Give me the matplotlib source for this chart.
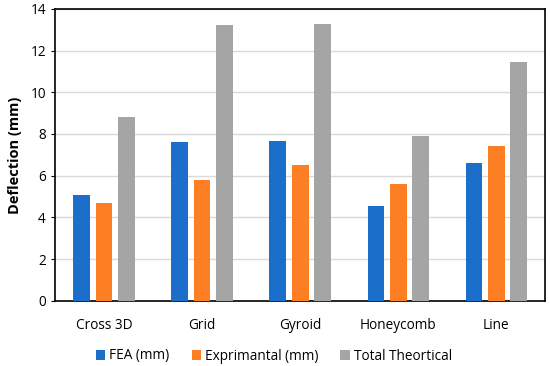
import matplotlib
matplotlib.use("Agg")
import matplotlib.pyplot as plt
import numpy as np

plt.rcParams["font.family"] = ["Open Sans", "DejaVu Sans"]

categories = ["Cross 3D", "Grid", "Gyroid", "Honeycomb", "Line"]
fea = [5.07, 7.62, 7.65, 4.55, 6.62]
experimental = [4.68, 5.79, 6.49, 5.61, 7.43]
theoretical = [8.79, 13.2, 13.26, 7.9, 11.46]

series = [
    ("FEA (mm)", fea, "#1b6fca"),
    ("Exprimantal (mm)", experimental, "#fd7f23"),
    ("Total Theortical", theoretical, "#a5a5a5"),
]

fig = plt.figure(figsize=(5.5, 3.66), dpi=100)
ax = fig.add_axes([0.1, 0.178, 0.891, 0.798])

x = np.arange(len(categories))
w = 0.173
step = 0.225
for i, (label, vals, color) in enumerate(series):
    ax.bar(x + (i - 1) * step, vals, width=w, color=color, label=label, zorder=3)

ax.set_xlim(-0.5, len(categories) - 0.5)
ax.set_ylim(0, 14)
ax.set_yticks(range(0, 15, 2))
ax.set_xticks(x)
ax.set_xticklabels(categories, fontsize=9.8)
ax.tick_params(axis="y", labelsize=9.8, length=3)
ax.tick_params(axis="x", length=0, pad=12)
ax.yaxis.grid(True, color="#d9d9d9", linewidth=1, zorder=0)
ax.set_ylabel("Deflection (mm)", fontsize=10.5, fontweight="bold", labelpad=6)
for s in ax.spines.values():
    s.set_color("black")
    s.set_linewidth(1.2)

ax.legend(loc="center", bbox_to_anchor=(274 / 550, 1 - 356 / 366),
          bbox_transform=fig.transFigure, ncol=3, frameon=False,
          fontsize=9.8, handlelength=0.7, handleheight=0.7, handletextpad=0.3,
          columnspacing=1.6)

fig.savefig("out.png", dpi=100)
